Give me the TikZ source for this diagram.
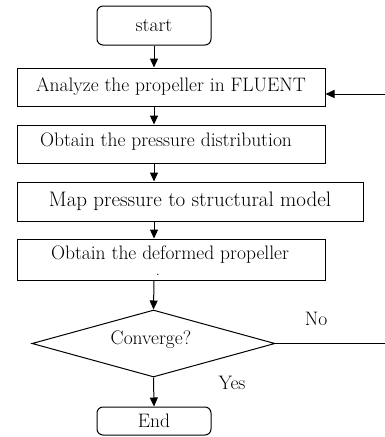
\documentclass[tikz,border=0pt]{standalone}
\usepackage{fontspec}
\usetikzlibrary{shapes.geometric,arrows.meta}
\begin{document}
\begin{tikzpicture}[x=1pt,y=1pt,
  every node/.style={font=\fontsize{19.5}{22}\selectfont},
  procbox/.style={draw,line width=1pt,inner sep=0pt,minimum height=38pt},
  termbox/.style={draw,line width=1pt,rounded corners=6pt,inner sep=0pt,minimum width=114pt},
  decbox/.style={draw,line width=1pt,diamond,aspect=3.6,inner sep=0pt,minimum width=243pt,minimum height=67pt},
  flow/.style={line width=1pt,-{Triangle[length=9pt,width=8pt]}},
  plainline/.style={line width=1pt}]
\useasboundingbox (0,0) rectangle (385,-437);
\clip (0,0) rectangle (385,-437);
\node[termbox,minimum height=39pt] (start) at (154,-25.5) {start};
\node[procbox,minimum width=308pt] (analyze) at (171,-87) {Analyze the propeller in FLUENT};
\node[procbox,minimum width=308pt] (pressure) at (171,-144) {};
\node[inner sep=0pt] (prtext) at (166,-142) {Obtain the pressure distribution};
\node[procbox,minimum width=346pt,minimum height=39pt,font=\fontsize{21}{24}\selectfont] (map) at (190,-201.5) {Map pressure to structural model};
\node[procbox,minimum width=308pt,minimum height=41pt] (deformed) at (171,-259.5) {};
\node[inner sep=0pt,align=center] (deftext) at (170,-261) {Obtain the deformed propeller\\[-6pt]\hspace*{-24pt}{\fontsize{13}{13}\selectfont .}};
\node[decbox] (conv) at (153.5,-343.5) {};
\node[inner sep=0pt] (convtext) at (151,-340) {Converge?};
\node[termbox,minimum height=28pt] (end) at (154,-421) {\raisebox{-7pt}{End}};
\node[inner sep=0pt] (no) at (316,-319) {No};
\node[inner sep=0pt] (yes) at (232,-383) {Yes};
\coordinate (loopA) at (390,-343.5);
\coordinate (loopB) at (390,-94);
\draw[flow] (start.south) -- (start.south |- analyze.north);
\draw[flow] (start.south |- analyze.south) -- (start.south |- pressure.north);
\draw[flow] (start.south |- pressure.south) -- (start.south |- map.north);
\draw[flow] (start.south |- map.south) -- (start.south |- deformed.north);
\draw[flow] (start.south |- deformed.south) -- (conv.north);
\draw[flow] (conv.south) -- (end.north);
\draw[plainline] (conv.east) -- (loopA) -- (loopB);
\draw[flow] (loopB) -- (analyze.east |- loopB);
\end{tikzpicture}
\end{document}
